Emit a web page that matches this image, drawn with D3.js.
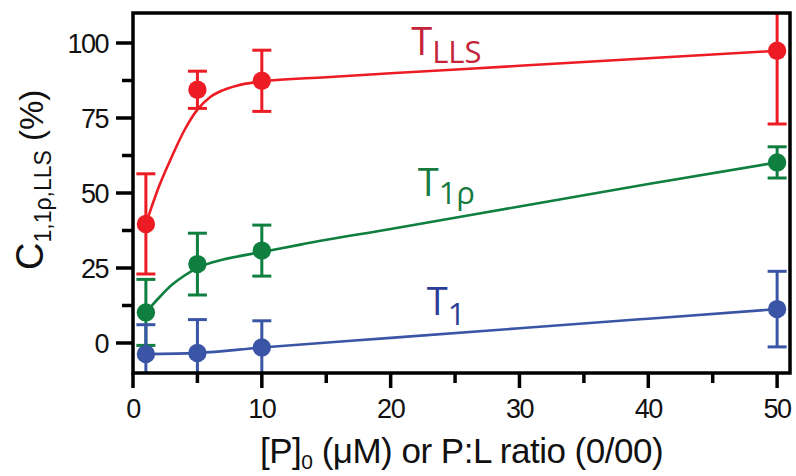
<!DOCTYPE html>
<html>
<head>
<meta charset="utf-8">
<script src="https://cdn.jsdelivr.net/npm/d3@7"></script>
<style>
  html, body { margin: 0; padding: 0; background: #fff; }
  svg { display: block; }
</style>
</head>
<body>
<svg id="chart" width="796" height="476"></svg>
<script>
// Concentrations / P:L ratios
const concentrations = [1, 5, 10, 50];

// Measured contrasts (%) and their error bars
const lls = [39.7, 84.4, 87.4, 97.4];
const llsErr = [16.7, 6.2, 10.2, 24.4];
const t1rho = [10.2, 26.3, 30.8, 60.2];
const t1rhoErr = [11.0, 10.3, 8.5, 5.2];
const t1 = [-3.7, -3.3, -1.5, 11.3];
const t1Err = [9.8, 11.1, 8.9, 12.6];

// Fitted curves, sampled along x
const llsFitX = [1, 2, 3, 4, 5, 6, 7, 8, 10, 15, 20, 30, 40, 50];
const llsFitY = [39.7, 52, 62, 71, 77.8, 82, 84.3, 85.7, 87.2, 88.6, 89.9, 92.4, 94.9, 97.4];
const t1rhoFitX = [1, 2, 3, 4, 5, 7, 10, 13, 20, 30, 40, 50];
const t1rhoFitY = [10.2, 15, 19.3, 22.5, 25, 27.8, 30.3, 32.8, 38, 45.5, 53, 60.2];
const t1FitX = [1, 5, 10, 20, 30, 40, 50];
const t1FitY = [-3.7, -3.3, -1.5, 1.7, 4.9, 8.1, 11.3];

const xMajorTicks = [0, 10, 20, 30, 40, 50];
const xMinorTicks = [5, 15, 25, 35, 45];
const yMajorTicks = [0, 25, 50, 75, 100];
const yMinorTicks = [12.5, 37.5, 62.5, 87.5];

const series = [
  { name: "lls", y: lls, err: llsErr, fx: llsFitX, fy: llsFitY, color: "#ed1c24" },
  { name: "t1rho", y: t1rho, err: t1rhoErr, fx: t1rhoFitX, fy: t1rhoFitY, color: "#0f7f3f" },
  { name: "t1", y: t1, err: t1Err, fx: t1FitX, fy: t1FitY, color: "#3a55a6" }
];

const W = 796, H = 476;
const margin = { top: 13, right: 6, bottom: 103, left: 133 };
const iw = W - margin.left - margin.right;
const ih = H - margin.top - margin.bottom;

const x = d3.scaleLinear().domain([0, 51]).range([0, iw]);
const y = d3.scaleLinear().domain([-10, 110]).range([ih, 0]);

const svg = d3.select("#chart");
const g = svg.append("g").attr("transform", `translate(${margin.left},${margin.top})`);

g.append("defs").append("clipPath").attr("id", "plotClip")
  .append("rect").attr("width", iw).attr("height", ih);

const plot = g.append("g").attr("clip-path", "url(#plotClip)");

const line = d3.line().x(d => x(d[0])).y(d => y(d[1])).curve(d3.curveMonotoneX);
const capHalf = 9.5;

series.forEach(s => {
  const sg = plot.append("g");
  sg.append("path")
    .datum(s.fx.map((v, i) => [v, s.fy[i]]))
    .attr("d", line)
    .attr("fill", "none")
    .attr("stroke", s.color)
    .attr("stroke-width", 2.6);

  const pts = concentrations.map((c, i) => ({ c, v: s.y[i], e: s.err[i] }));
  const eb = sg.selectAll(".eb").data(pts).enter().append("g")
    .attr("stroke", s.color).attr("stroke-width", 3);
  eb.append("line")
    .attr("x1", d => x(d.c)).attr("x2", d => x(d.c))
    .attr("y1", d => y(d.v + d.e)).attr("y2", d => y(d.v - d.e));
  eb.append("line")
    .attr("x1", d => x(d.c) - capHalf).attr("x2", d => x(d.c) + capHalf)
    .attr("y1", d => y(d.v + d.e)).attr("y2", d => y(d.v + d.e));
  eb.append("line")
    .attr("x1", d => x(d.c) - capHalf).attr("x2", d => x(d.c) + capHalf)
    .attr("y1", d => y(d.v - d.e)).attr("y2", d => y(d.v - d.e));

  sg.selectAll("circle").data(pts).enter().append("circle")
    .attr("cx", d => x(d.c)).attr("cy", d => y(d.v))
    .attr("r", 9.2).attr("fill", s.color);
});

// Frame
g.append("rect").attr("width", iw).attr("height", ih)
  .attr("fill", "none").attr("stroke", "#000").attr("stroke-width", 3.5);

// Axes
const tickFont = "'Liberation Sans', Arial, sans-serif";
const xAxis = g.append("g").attr("transform", `translate(0,${ih})`);
xAxis.selectAll(".maj").data(xMajorTicks).enter().append("line")
  .attr("x1", d => x(d)).attr("x2", d => x(d)).attr("y1", 0).attr("y2", 15)
  .attr("stroke", "#000").attr("stroke-width", 3.5);
xAxis.selectAll(".min").data(xMinorTicks).enter().append("line")
  .attr("x1", d => x(d)).attr("x2", d => x(d)).attr("y1", 0).attr("y2", 10)
  .attr("stroke", "#000").attr("stroke-width", 3.5);
xAxis.selectAll("text").data(xMajorTicks).enter().append("text")
  .attr("x", d => x(d)).attr("y", 45)
  .attr("text-anchor", "middle")
  .attr("font-family", tickFont).attr("font-size", 27)
  .attr("letter-spacing", "-1.5").attr("fill", "#111")
  .text(d => d);

const yAxis = g.append("g");
yAxis.selectAll(".maj").data(yMajorTicks).enter().append("line")
  .attr("x1", -17).attr("x2", 0).attr("y1", d => y(d)).attr("y2", d => y(d))
  .attr("stroke", "#000").attr("stroke-width", 3.5);
yAxis.selectAll(".min").data(yMinorTicks).enter().append("line")
  .attr("x1", -11).attr("x2", 0).attr("y1", d => y(d)).attr("y2", d => y(d))
  .attr("stroke", "#000").attr("stroke-width", 3.5);
yAxis.selectAll("text").data(yMajorTicks).enter().append("text")
  .attr("x", -25).attr("y", d => y(d) + 10)
  .attr("text-anchor", "end")
  .attr("font-family", tickFont).attr("font-size", 27)
  .attr("letter-spacing", "-1.5").attr("fill", "#111")
  .text(d => d);

// Axis titles
const xt = svg.append("text")
  .attr("x", margin.left + iw / 2).attr("y", 463)
  .attr("text-anchor", "middle")
  .attr("font-family", tickFont).attr("font-size", 35)
  .attr("letter-spacing", "-0.5").attr("fill", "#111");
xt.append("tspan").text("[P]");
xt.append("tspan").attr("font-size", 21).attr("dy", 6).text("0");
xt.append("tspan").attr("dy", -6).text(" (μM) or P:L ratio (0/00)");

const yt = svg.append("text")
  .attr("transform", "translate(43,270) rotate(-90)")
  .attr("font-family", tickFont).attr("font-size", 38)
  .attr("fill", "#111");
yt.append("tspan").text("C");
yt.append("tspan").attr("font-size", 23).attr("dy", 8).text("1,1ρ,LLS");
yt.append("tspan").attr("font-size", 33).attr("dy", -8).text(" (%)");

// Series labels
const labFont = "'Open Sans', 'Noto Sans', sans-serif";
function seriesLabel(px, py, main, sub, color, subSize, subDy) {
  const t = g.append("text")
    .attr("x", x(px)).attr("y", y(py))
    .attr("font-family", labFont).attr("font-size", 38)
    .attr("fill", color);
  t.append("tspan").text(main);
  t.append("tspan").attr("font-size", subSize).attr("dy", subDy).text(sub);
}
seriesLabel(21.6, 96, "T", "LLS", "#c4243a", 31, 8);
seriesLabel(22.1, 49, "T", "1ρ", "#177a3f", 31, 8);
seriesLabel(22.8, 9.3, "T", "1", "#2c3d96", 31, 10);
</script>
</body>
</html>
